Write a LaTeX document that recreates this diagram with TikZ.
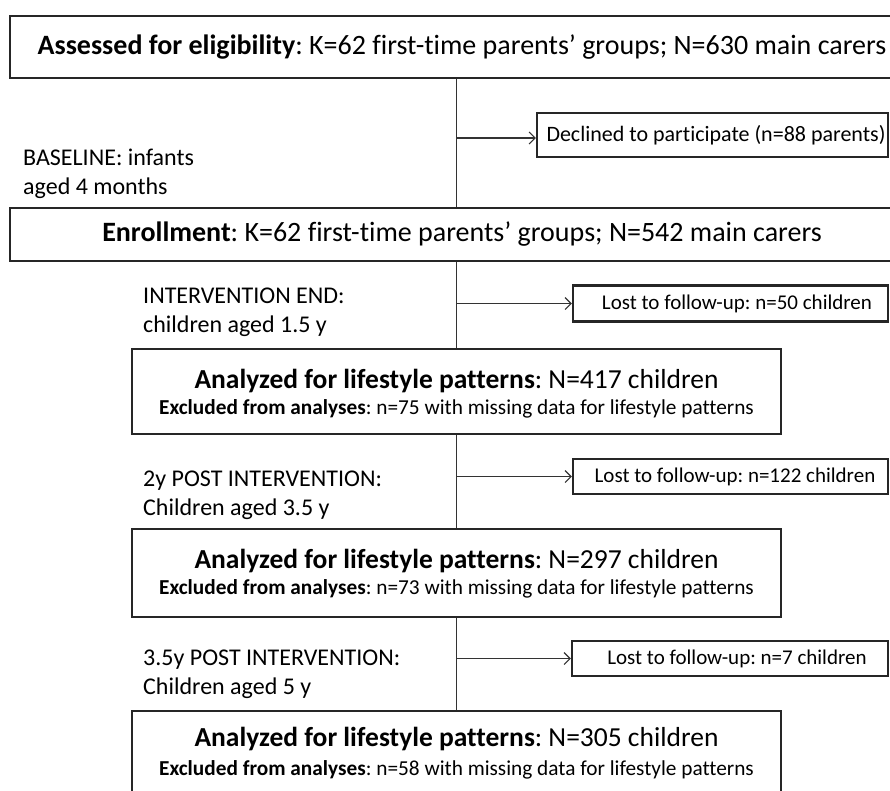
\documentclass[tikz,border=0pt]{standalone}
\usepackage{fontspec}
\setmainfont{Carlito}[Ligatures=NoCommon]
\usetikzlibrary{arrows.meta}
\frenchspacing
\begin{document}
\begin{tikzpicture}[x=1pt,y=-1pt,
  bigbox/.style={draw=black!85,line width=2.4pt,rectangle,inner sep=0pt,align=center},
  sidebox/.style={draw=black!85,line width=2.4pt,rectangle,inner sep=0pt,align=center},
  titletxt/.style={inner sep=0pt,font=\fontsize{27.5}{30}\selectfont},
  subtxt/.style={inner sep=0pt,font=\fontsize{21.3}{24}\selectfont},
  sidetxt/.style={inner sep=0pt,font=\fontsize{21}{24}\selectfont},
  lbl/.style={anchor=west,align=left,inner sep=0pt,font=\fontsize{24}{29}\selectfont},
  conn/.style={draw=black!80,line width=1.1pt},
  arr/.style={conn,-{Straight Barb[length=6pt,width=12pt,line width=1.1pt]}}
]
\useasboundingbox (0,0) rectangle (890,790);
\fill[white] (0,0) rectangle (890,790);

% main boxes
\node[bigbox,minimum width=904pt,minimum height=62pt,font=\fontsize{28}{32}\selectfont] (top) at (462,47)
  {\textbf{Assessed for eligibility}: K=62 first-time parents’ groups; N=630 main carers};
\node[bigbox,minimum width=904pt,minimum height=53pt,font=\fontsize{28}{32}\selectfont] (enr) at (462,234.5)
  {\textbf{Enrollment}: K=62 first-time parents’ groups; N=542 main carers};

\node[bigbox,minimum width=649pt,minimum height=85pt,anchor=north] (a1) at (456.5,348) {};
\node[bigbox,minimum width=649pt,minimum height=88pt,anchor=north] (a2) at (456.5,528) {};
\node[bigbox,minimum width=649pt,minimum height=88pt,anchor=north] (a3) at (456.5,710) {};

\node[titletxt] (t1) at (456.5,381) {\textbf{Analyzed for lifestyle patterns}: N=417 children};
\node[subtxt]   (s1) at (456.5,409) {\textbf{Excluded from analyses}: n=75 with missing data for lifestyle patterns};
\node[titletxt] (t2) at (456.5,561) {\textbf{Analyzed for lifestyle patterns}: N=297 children};
\node[subtxt]   (s2) at (456.5,589) {\textbf{Excluded from analyses}: n=73 with missing data for lifestyle patterns};
\node[titletxt] (t3) at (456.5,739) {\textbf{Analyzed for lifestyle patterns}: N=305 children};
\node[subtxt]   (s3) at (456.5,770) {\textbf{Excluded from analyses}: n=58 with missing data for lifestyle patterns};

% side boxes
\node[sidebox,minimum width=351pt,minimum height=44pt,font=\fontsize{22}{26}\selectfont] (dec) at (712.5,135) {\hspace*{7pt}Declined to participate (n=88 parents)};
\node[sidebox,minimum width=315pt,minimum height=36pt] (l1) at (730.5,303.5) {};
\node[sidetxt] (lt1) at (737,304) {Lost to follow-up: n=50 children};
\node[sidebox,minimum width=315pt,minimum height=35pt] (l2) at (730.5,476.5) {};
\node[sidetxt] (lt2) at (735,477) {Lost to follow-up: n=122 children};
\node[sidebox,minimum width=316pt,minimum height=35pt] (l3) at (730,658.5) {};
\node[sidetxt] (lt3) at (737,659) {Lost to follow-up: n=7 children};

% left labels
\node[lbl] (b0) at (23,174) {BASELINE: infants\\aged 4 months};
\node[lbl] (b1) at (143,312.5) {INTERVENTION END:\\children aged 1.5 y};
\node[lbl] (b2) at (143,495.5) {2y POST INTERVENTION:\\Children aged 3.5 y};
\node[lbl] (b3) at (143,674) {3.5y POST INTERVENTION:\\Children aged 5 y};

% connectors
\draw[conn] (a1.north |- top.south) -- (a1.north |- enr.north);
\draw[conn] (a1.north |- enr.south) -- (a1.north);
\draw[conn] (a1.south) -- (a2.north);
\draw[conn] (a2.south) -- (a3.north);
\draw[arr] (a1.north |- dec.west) ++(0,3) coordinate (d0) -- (d0 -| dec.west);
\draw[arr] (a1.north |- l1.west) -- (l1.west);
\draw[arr] (a1.north |- l2.west) -- (l2.west);
\draw[arr] (a1.north |- l3.west) -- (l3.west);
\end{tikzpicture}
\end{document}
